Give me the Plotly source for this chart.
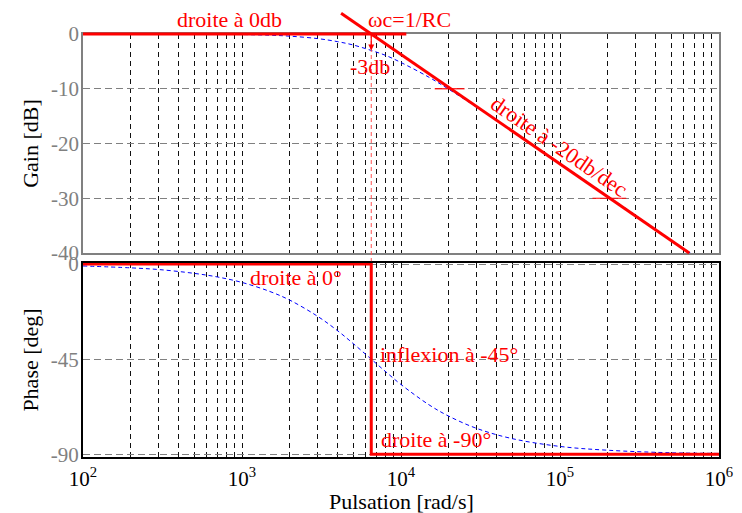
import math
import plotly.graph_objects as go

# ---------------- data ----------------
w_curve = [100, 200, 300, 500, 700, 1000, 1500, 2000, 3000, 4000, 5000, 6500,
           8000, 10000, 15000, 20000, 30000, 50000, 100000, 200000, 500000, 1000000]
gain_curve = [-0.001, -0.004, -0.009, -0.025, -0.05, -0.1, -0.22, -0.39, -0.84, -1.4,
              -2.0, -3.0, -3.9, -5.2, -7.9, -10.1, -13.4, -17.7, -23.6, -29.6, -37.6, -43.6]
phase_curve = [-0.9, -1.8, -2.6, -4.4, -6.1, -8.7, -13.0, -17.1, -24.8, -31.6,
               -37.6, -45.0, -50.9, -57.0, -66.6, -72.0, -77.8, -82.6, -86.3, -88.1, -89.3, -89.6]

wc = 6500                        # omega_c = 1/RC
flat_w = [100, 10800]            # asymptote 0 dB
flat_db = [0, 0]
slope_w = [4200, 650000]         # asymptote -20 dB/dec
slope_db = [3.8, -40]
mark1_w = [16300, 25100]         # decade marks on the slope
mark1_db = [-10, -10]
mark2_w = [160000, 261000]
mark2_db = [-30, -30]
vline_w = [wc, wc]
vline_db = [0, -41.5]
step_w = [100, wc, wc, 1000000]  # phase asymptotes
step_deg = [0, 0, -90, -90]

x_grid = [k * 10 ** d for d in range(2, 6) for k in range(1, 10)] + [10 ** 6]
x_ticktext = [("10<sup>%d</sup>" % round(math.log10(v))) if abs(math.log10(v) - round(math.log10(v))) < 1e-9 else ""
              for v in x_grid]
gain_ticks = [0, -10, -20, -30, -40]
gain_labels = ["0", "-10", "-20", "-30", "-40"]
phase_ticks = [0, -45, -90]
phase_labels = ["0", "-45", "-90"]

# ---------------- style ----------------
FONT = "Liberation Serif"
RED = "#ff0000"
GRAY = "#808080"

d0, d1 = 0.4513, 0.9358   # gain panel domain
b1 = 0.4292               # phase panel top
span = 40.0 / (d1 - d0)
ov_lo = -40 - (d0 - b1) * span
ov_hi = 0 + (1 - d1) * span

fig = go.Figure()

# gain curve (clipped in gain panel)
fig.add_trace(go.Scatter(x=w_curve, y=gain_curve, mode="lines", xaxis="x", yaxis="y",
                         line=dict(color="#0000ff", width=1, dash="4px,3px", shape="spline"),
                         hoverinfo="skip"))
# phase curve
fig.add_trace(go.Scatter(x=w_curve, y=phase_curve, mode="lines", xaxis="x2", yaxis="y2",
                         line=dict(color="#0000ff", width=1, dash="4px,3px", shape="spline"),
                         hoverinfo="skip"))
fig.add_trace(go.Scatter(x=step_w, y=step_deg, mode="lines", xaxis="x2", yaxis="y2",
                         line=dict(color=RED, width=3), hoverinfo="skip"))

# overlay (unclipped above the gain panel)
fig.add_trace(go.Scatter(x=vline_w, y=vline_db, mode="lines", xaxis="x3", yaxis="y3",
                         line=dict(color="#ff5050", width=1, dash="4px,3px"), hoverinfo="skip"))
fig.add_trace(go.Scatter(x=flat_w, y=flat_db, mode="lines", xaxis="x3", yaxis="y3",
                         line=dict(color=RED, width=3), hoverinfo="skip"))
fig.add_trace(go.Scatter(x=slope_w, y=slope_db, mode="lines", xaxis="x3", yaxis="y3",
                         line=dict(color=RED, width=3), hoverinfo="skip"))
fig.add_trace(go.Scatter(x=mark1_w, y=mark1_db, mode="lines", xaxis="x3", yaxis="y3",
                         line=dict(color=RED, width=1.2), hoverinfo="skip"))
fig.add_trace(go.Scatter(x=mark2_w, y=mark2_db, mode="lines", xaxis="x3", yaxis="y3",
                         line=dict(color=RED, width=1.2), hoverinfo="skip"))

common_x = dict(type="log", range=[2, 6], tickvals=x_grid, zeroline=False,
                showgrid=True, gridcolor="#111111", griddash="5px,4px", gridwidth=1,
                ticks="", mirror=True, showline=True, automargin=False)

fig.update_layout(
    width=742, height=513,
    margin=dict(l=83, r=23, t=5, b=56, autoexpand=False),
    plot_bgcolor="rgba(0,0,0,0)", paper_bgcolor="white",
    showlegend=False,
    font=dict(family=FONT, size=21, color="black"),
    xaxis=dict(**common_x, domain=[0, 1], anchor="y", showticklabels=False,
               linecolor=GRAY, linewidth=1.5),
    yaxis=dict(domain=[d0, d1], anchor="x", range=[-40, 0], tickvals=gain_ticks,
               ticktext=gain_labels, tickfont=dict(color=GRAY, size=21),
               showgrid=True, gridcolor=GRAY, griddash="7px,4px", gridwidth=1,
               zeroline=False, ticks="", ticklabelstandoff=-2, automargin=False,
               showline=True, linecolor=GRAY, linewidth=1.5, mirror=True,
               title=dict(text="Gain [dB]", font=dict(size=22, color="black"), standoff=6)),
    xaxis2=dict(**common_x, domain=[0, 1], anchor="y2", ticktext=x_ticktext,
                tickfont=dict(color="black", size=21), linecolor="black", linewidth=2,
                ticklabelstandoff=2),
    yaxis2=dict(domain=[0, b1], anchor="x2", range=[-91.3, 0.5], tickvals=phase_ticks,
                ticktext=phase_labels, tickfont=dict(color=GRAY, size=21),
                showgrid=True, gridcolor=GRAY, griddash="7px,4px", gridwidth=1,
                zeroline=False, ticks="", ticklabelstandoff=-2, automargin=False,
                showline=True, linecolor="black", linewidth=2, mirror=True,
                title=dict(text="Phase [deg]", font=dict(size=22, color="black"), standoff=6)),
    xaxis3=dict(type="log", range=[2, 6], domain=[0, 1], anchor="y3", visible=False),
    yaxis3=dict(range=[ov_lo, ov_hi], domain=[b1, 1], anchor="x3", visible=False),
)

# x-axis title (placed in the bottom margin)
fig.add_annotation(text="Pulsation [rad/s]", xref="paper", yref="paper", x=0.5, y=-0.099,
                   xanchor="center", yanchor="middle", showarrow=False,
                   font=dict(family=FONT, size=22, color="black"))

red_font = dict(family=FONT, size=22, color=RED)
ann = [
    dict(text="droite à 0db", xref="x3", yref="y3", x=2.924, y=2.6),
    dict(text="ωc=1/RC", xref="x3", yref="y3", x=4.054, y=2.6),
    dict(text="-3db", xref="x3", yref="y3", x=3.803, y=-6.0),
    dict(text="droite à -20db/dec", xref="x3", yref="y3", x=4.996, y=-20.6, textangle=34.5),
    dict(text="droite à 0°", xref="x2", yref="y2", x=3.338, y=-6.2),
    dict(text="inflexion à -45°", xref="x2", yref="y2", x=4.299, y=-42.6),
    dict(text="droite à -90°", xref="x2", yref="y2", x=4.217, y=-82.9),
]
for a in ann:
    fig.add_annotation(**a, showarrow=False, font=red_font)

fig.add_annotation(text="", xref="x3", yref="y3", x=math.log10(wc), y=-3,
                   axref="x3", ayref="y3", ax=math.log10(wc), ay=0,
                   showarrow=True, arrowhead=2, arrowsize=1, arrowwidth=1.2, arrowcolor=RED)

fig.write_html("out.html", config={"displayModeBar": False},
               post_script="document.body.style.margin='0px';")
